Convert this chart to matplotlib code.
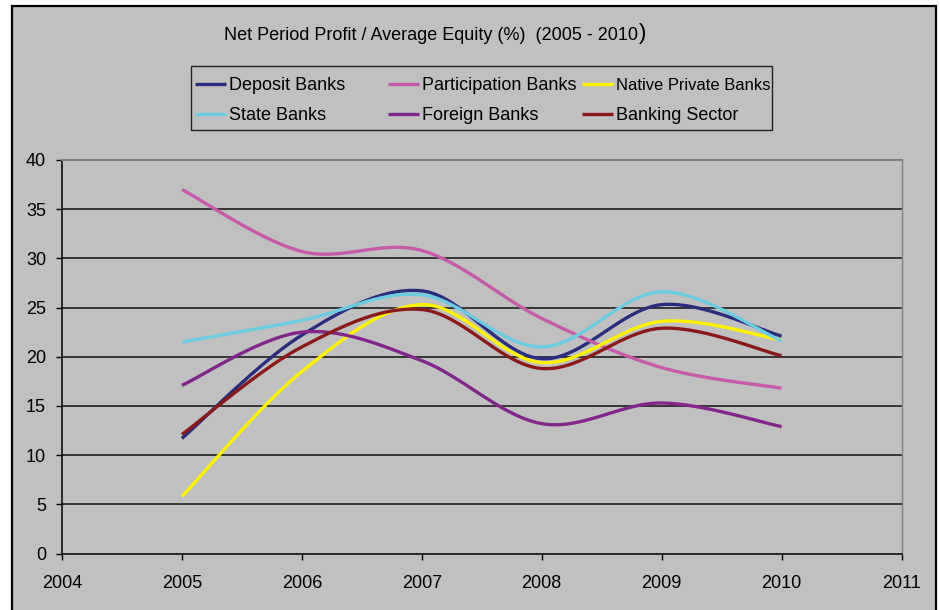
import numpy as np
import matplotlib
matplotlib.use("Agg")
import matplotlib.pyplot as plt
from matplotlib.patches import Rectangle
from matplotlib.lines import Line2D

plt.rcParams['font.family'] = ['Liberation Sans', 'DejaVu Sans']

# ---- data -------------------------------------------------------------
years = [2005, 2006, 2007, 2008, 2009, 2010]

deposit_banks = [11.7, 22.2, 26.7, 19.8, 25.3, 22.1]
participation_banks = [37.0, 30.7, 30.8, 23.9, 18.9, 16.8]
native_private_banks = [5.8, 18.5, 25.3, 19.4, 23.6, 21.7]
state_banks = [21.5, 23.7, 26.3, 21.0, 26.6, 21.6]
foreign_banks = [17.1, 22.5, 19.6, 13.2, 15.3, 12.9]
banking_sector = [12.1, 21.0, 24.8, 18.8, 22.9, 20.1]

series_names = ["Deposit Banks", "Participation Banks", "Native Private Banks",
                "State Banks", "Foreign Banks", "Banking Sector"]
series_values = [deposit_banks, participation_banks, native_private_banks,
                 state_banks, foreign_banks, banking_sector]
series_colors = ["#2A2C7C", "#C55BAA", "#FFF200", "#6DCCE0", "#81278A", "#8A1A1A"]

x_ticks = [2004, 2005, 2006, 2007, 2008, 2009, 2010, 2011]
y_ticks = [0, 5, 10, 15, 20, 25, 30, 35, 40]

title_text = "Net Period Profit / Average Equity (%)  (2005 - 2010"
title_close = ")"


def smooth_curve(xs, ys, steps=24):
    """Bezier smoothing through every point (Catmull-Rom style tangents)."""
    p = np.column_stack([xs, ys]).astype(float)
    n = len(p)
    out = []
    for i in range(n - 1):
        p0 = p[i - 1] if i > 0 else p[i]
        p1 = p[i]
        p2 = p[i + 1]
        p3 = p[i + 2] if i + 2 < n else p[i + 1]
        c1 = p1 + (p2 - p0) / 6.0
        c2 = p2 - (p3 - p1) / 6.0
        t = np.linspace(0, 1, steps, endpoint=(i == n - 2))[:, None]
        seg = ((1 - t) ** 3) * p1 + 3 * ((1 - t) ** 2) * t * c1 \
            + 3 * (1 - t) * (t ** 2) * c2 + (t ** 3) * p2
        out.append(seg)
    out = np.vstack(out)
    return out[:, 0], out[:, 1]


W, H = 940, 610
fig = plt.figure(figsize=(W / 100, H / 100), dpi=100, facecolor="white")

def px(x, y):
    return x / W, 1 - y / H

# chart area panel with black frame
fig.patches.append(Rectangle(px(11.5, 640), (936 - 11.5) / W, (640 - 5.5) / H,
                             transform=fig.transFigure, facecolor="#C0C0C0",
                             edgecolor="black", linewidth=1.6, zorder=-5))

left, right, top, bottom = 62, 901.5, 160, 553.5
ax = fig.add_axes([left / W, 1 - bottom / H, (right - left) / W, (bottom - top) / H])
ax.set_facecolor("#C0C0C0")

for name, vals, col in zip(series_names, series_values, series_colors):
    sx, sy = smooth_curve(years, vals)
    ax.plot(sx, sy, color=col, linewidth=2.4, solid_capstyle="butt",
            solid_joinstyle="round", zorder=3)

ax.set_xlim(2004, 2011)
ax.set_ylim(0, 40)
ax.set_xticks(x_ticks)
ax.set_yticks(y_ticks)
ax.set_xticklabels([str(v) for v in x_ticks])
ax.set_yticklabels([str(v) for v in y_ticks])

for yv in y_ticks[1:-1]:
    ax.axhline(yv, color="#111111", linewidth=1.1, zorder=1)

ax.spines["top"].set_color("#808080")
ax.spines["right"].set_color("#808080")
ax.spines["top"].set_linewidth(1.4)
ax.spines["right"].set_linewidth(1.0)
ax.spines["left"].set_color("black")
ax.spines["bottom"].set_color("black")
ax.spines["left"].set_linewidth(1.1)
ax.spines["bottom"].set_linewidth(1.1)

ax.tick_params(axis="both", direction="out", length=4.5, width=1.0,
               color="black", labelsize=13, labelcolor="black")
ax.tick_params(axis="y", pad=7)
ax.tick_params(axis="x", pad=11)

# title, with a taller closing bracket
t_main = fig.text(*px(224, 35), title_text, ha="left", va="center", fontsize=13,
                  color="black")
fig.canvas.draw()
bb = t_main.get_window_extent()
fig.text(bb.x1 / W + 0.5 / W, 1 - 33 / H, title_close, ha="left", va="center",
         fontsize=16, color="black")

# legend box
lx0, ly0, lx1, ly1 = 190.5, 66.5, 771.5, 129.5
fig.patches.append(Rectangle(px(lx0, ly1), (lx1 - lx0) / W, (ly1 - ly0) / H,
                             transform=fig.transFigure, facecolor="none",
                             edgecolor="#222222", linewidth=1.0, zorder=5))
col_x = [195, 388, 582]
row_y = [83.5, 113.5]
order = [(0, 0), (0, 1), (0, 2), (1, 0), (1, 1), (1, 2)]
for (r, c), name, col in zip(order, series_names, series_colors):
    x0 = col_x[c]
    y0 = row_y[r]
    fig.add_artist(Line2D([x0 / W, (x0 + 31) / W], [1 - y0 / H, 1 - y0 / H],
                          transform=fig.transFigure, color=col, linewidth=2.4,
                          solid_capstyle="butt"))
    fs = 11.9 if name == "Native Private Banks" else 13
    fig.text((x0 + 34) / W, 1 - y0 / H, name, ha="left", va="center_baseline",
             fontsize=fs, color="black")

fig.savefig("out.png", dpi=100, facecolor="white")
